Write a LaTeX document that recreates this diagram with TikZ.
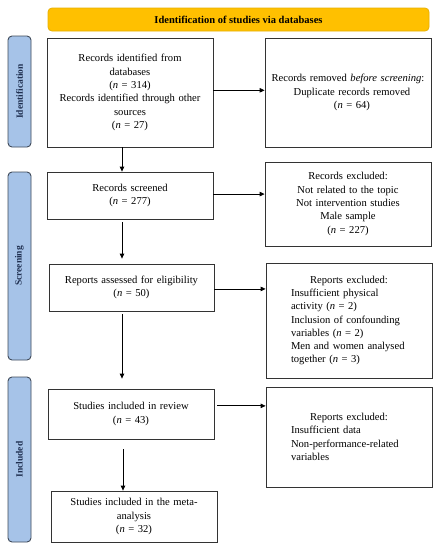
\documentclass[tikz,border=0pt]{standalone}
\usepackage{fontspec}
\setmainfont{Liberation Serif}
\usetikzlibrary{arrows.meta,calc}
\definecolor{bannerfill}{HTML}{FFC000}
\definecolor{bannerdraw}{HTML}{E8B000}
\definecolor{sidefill}{HTML}{A6C3E8}
\definecolor{sidedraw}{HTML}{3F4A5A}
\definecolor{sidetext}{HTML}{1F2F50}
\newcommand{\ctrline}[1]{\makebox[158pt]{#1}}
\begin{document}
\begin{tikzpicture}[x=1pt,y=-1pt,
  box/.style={draw=black!80,line width=0.8pt,fill=white,inner sep=4pt,align=center,
    font=\fontsize{10.6}{13.3}\selectfont},
  banner/.style={draw=bannerdraw,line width=0.8pt,fill=bannerfill,rounded corners=4pt,
    font=\fontsize{10.5}{12}\selectfont\bfseries,inner sep=0pt},
  side/.style={draw=sidedraw,line width=0.9pt,fill=sidefill,rounded corners=4pt,rotate=90,
    font=\fontsize{9.5}{11}\selectfont\bfseries,text=sidetext,inner sep=0pt},
  arr/.style={line width=0.8pt,-{Triangle[length=5pt,width=4.5pt]}}]
\useasboundingbox (0,0) rectangle (441,550);
\fill[white] (0,0) rectangle (441,550);

\node[banner,minimum width=381pt,minimum height=23pt] (ban) at (238.5,19.5) {Identification of studies via databases};

\node[side,minimum width=111pt,minimum height=23pt] (sid) at (19.5,91.5) {Identification};
\node[side,minimum width=188pt,minimum height=23pt] (ssc) at (19.5,266) {Screening};
\node[side,minimum width=165pt,minimum height=23pt] (sin) at (19.5,459.5) {Included};

\node[box,minimum width=166pt,minimum height=109pt,text width=158pt] (b1) at (130,92.5)
  {Records identified from\\databases\\(\textit{n} = 314)\\Records identified through other\\sources\\(\textit{n} = 27)};
\node[box,minimum width=166pt,minimum height=109pt,text width=158pt] (r1) at (348,92.5)
  {Records removed \textit{before screening}:\\\hspace*{8pt}Duplicate records removed\\\hspace*{8pt}(\textit{n} = 64)};

\node[box,minimum width=166pt,minimum height=47pt,text width=158pt] (b2) at (130,195.5)
  {Records screened\\(\textit{n} = 277)};
\node[box,minimum width=166pt,minimum height=84pt,text width=158pt] (r2) at (348,204)
  {Records excluded:\\Not related to the topic\\Not intervention studies\\Male sample\\(\textit{n} = 227)};

\node[box,minimum width=165pt,minimum height=47pt,text width=157pt] (b3) at (131.5,287.5)
  {Reports assessed for eligibility\\(\textit{n} = 50)};
\node[box,minimum width=166pt,minimum height=115pt,text width=158pt,align=left] (r3) at (349,320.5)
  {\ctrline{Reports excluded:}\\\hspace*{21pt}Insufficient physical\\\hspace*{21pt}activity (\textit{n} = 2)\\\hspace*{21pt}Inclusion of confounding\\\hspace*{21pt}variables (\textit{n} = 2)\\\hspace*{21pt}Men and women analysed\\\hspace*{21pt}together (\textit{n} = 3)};

\node[box,minimum width=166pt,minimum height=50pt,text width=158pt] (b4) at (131,414)
  {Studies included in review\\(\textit{n} = 43)};
\node[box,minimum width=166pt,minimum height=100pt,text width=158pt,align=left] (r4) at (349,437)
  {\ctrline{Reports excluded:}\\\hspace*{21pt}Insufficient data\\\hspace*{21pt}Non-performance-related\\\hspace*{21pt}variables};

\node[box,minimum width=166pt,minimum height=51pt,text width=158pt] (b5) at (134,516.5)
  {Studies included in the meta-\\analysis\\(\textit{n} = 32)};

\coordinate (ax) at (122,0);
\coordinate (bx) at (123,0);
\draw[arr] (b1.south -| ax) -- (b2.north -| ax);
\draw[arr,shorten <=3pt,shorten >=5pt] (b2.south -| ax) -- (b3.north -| ax);
\draw[arr,shorten <=3pt,shorten >=10pt] (b3.south -| ax) -- (b4.north -| ax);
\draw[arr,shorten <=10pt] (b4.south -| bx) -- (b5.north -| bx);

\draw[arr] ($(b1.north east)!0.48!(b1.south east)$) coordinate (p1) -- (p1 -| r1.west);
\draw[arr] ($(b2.north east)!0.47!(b2.south east)$) coordinate (p2) -- (p2 -| r2.west);
\draw[arr] ($(b3.north east)!0.53!(b3.south east)$) coordinate (p3) -- (p3 -| r3.west);
\draw[arr,shorten <=3pt] ($(b4.north east)!0.34!(b4.south east)$) coordinate (p4) -- (p4 -| r4.west);
\end{tikzpicture}
\end{document}
